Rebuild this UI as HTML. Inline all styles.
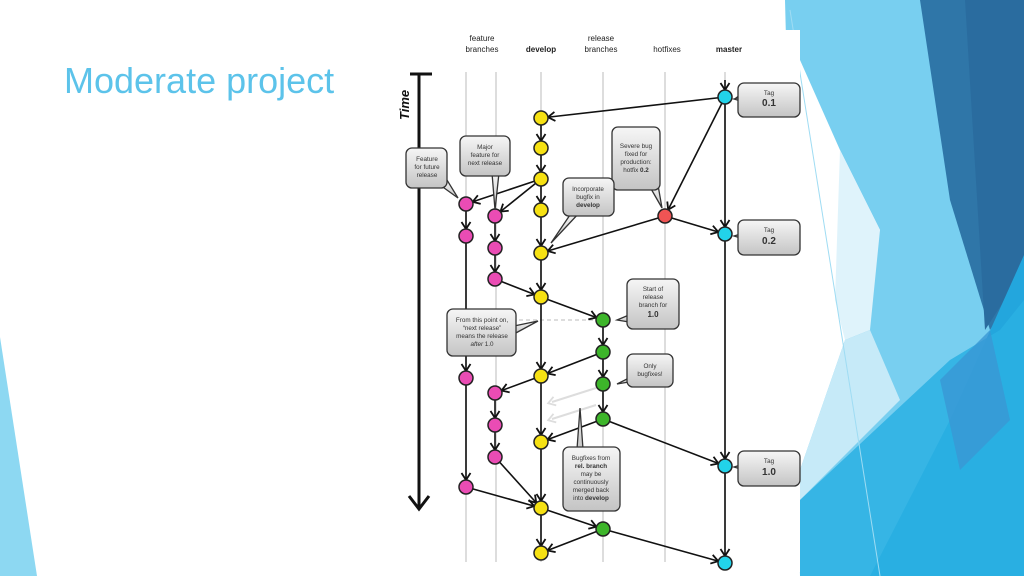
<!DOCTYPE html>
<html><head><meta charset="utf-8"><style>
html,body{margin:0;padding:0;background:#fff;width:1024px;height:576px;overflow:hidden}
svg{display:block}
text{font-family:"Liberation Sans",sans-serif}
</style></head><body>
<svg width="1024" height="576" viewBox="0 0 1024 576" xmlns="http://www.w3.org/2000/svg">
<defs>
<linearGradient id="cg" x1="0" y1="0" x2="0" y2="1"><stop offset="0" stop-color="#f6f6f6"/><stop offset="1" stop-color="#c4c4c4"/></linearGradient>
<marker id="ar" markerUnits="userSpaceOnUse" markerWidth="20" markerHeight="20" refX="14" refY="0" orient="auto" style="overflow:visible"><path d="M0,-4.5 L7,0 L0,4.5" fill="none" stroke="#111" stroke-width="1.8"/></marker>
<marker id="ag" markerUnits="userSpaceOnUse" markerWidth="20" markerHeight="20" refX="3" refY="0" orient="auto" style="overflow:visible"><path d="M0,-4.5 L7,0 L0,4.5" fill="none" stroke="#ddd" stroke-width="1.8"/></marker>
</defs>
<!-- background shapes -->
<polygon points="0,337 37,576 0,576" fill="#8dd8f2"/>
<polygon points="785,0 1024,0 1024,576 800,576" fill="#78cff0"/>
<polygon points="800,60 840,150 880,230 845,340 800,470" fill="#ffffff"/>
<polygon points="840,150 880,230 870,330 845,340 835,300" fill="#dff3fb"/>
<polygon points="800,470 845,340 870,330 900,400 800,500" fill="#c6eaf8"/>
<polygon points="920,0 1024,0 1024,280 990,330 950,200" fill="#2f76a8"/>
<polygon points="965,0 1024,0 1024,270 985,330" fill="#2a6c9f"/>
<polygon points="1024,255 1024,576 870,576 950,420" fill="#23a6dd"/>
<polygon points="800,500 950,360 1000,330 1024,300 1024,576 800,576" fill="#2ab0e3" opacity="0.85"/>
<polygon points="940,380 990,330 1010,420 960,470" fill="#3a97d4" opacity="0.8"/>
<line x1="790" y1="10" x2="880" y2="576" stroke="#9fdcf3" stroke-width="1"/>
<!-- diagram white area -->
<rect x="380" y="30" width="420" height="542" fill="#fff"/>
<!-- title -->
<text x="64" y="93" font-size="36" fill="#5cc3ea">Moderate project</text>
<!-- headers -->
<g font-size="8" fill="#222" text-anchor="middle">
<text x="482" y="41">feature</text><text x="482" y="52">branches</text>
<text x="541" y="52" font-weight="bold">develop</text>
<text x="601" y="41">release</text><text x="601" y="52">branches</text>
<text x="667" y="52">hotfixes</text>
<text x="729" y="52" font-weight="bold">master</text>
</g>
<!-- vertical guide lines -->
<g stroke="#ddd" stroke-width="2">
<line x1="466" y1="72" x2="466" y2="562"/><line x1="496" y1="72" x2="496" y2="562"/>
<line x1="541" y1="72" x2="541" y2="562"/><line x1="603" y1="72" x2="603" y2="562"/>
<line x1="665" y1="72" x2="665" y2="562"/><line x1="725" y1="72" x2="725" y2="562"/>
</g>
<!-- time axis -->
<line x1="410" y1="74" x2="432" y2="74" stroke="#111" stroke-width="3"/>
<line x1="419" y1="74" x2="419" y2="508" stroke="#111" stroke-width="3"/>
<path d="M409,496 L419,509 L429,496" fill="none" stroke="#111" stroke-width="3"/>
<text transform="translate(409,120) rotate(-90)" font-size="13" font-weight="bold" font-style="italic" fill="#111">Time</text>
<!-- dashed -->
<line x1="470" y1="320" x2="595" y2="320" stroke="#bbb" stroke-width="1" stroke-dasharray="4,3"/>
<!-- faint arrows -->
<line x1="596" y1="388" x2="552" y2="402" stroke="#ddd" stroke-width="2" marker-end="url(#ag)"/>
<line x1="596" y1="405" x2="552" y2="419" stroke="#ddd" stroke-width="2" marker-end="url(#ag)"/>
<!-- edges -->
<g stroke="#111" stroke-width="1.6" marker-end="url(#ar)">
<line x1="725" y1="80" x2="725" y2="97"/>
<line x1="725" y1="97" x2="541" y2="118"/>
<line x1="725" y1="97" x2="665" y2="216"/>
<line x1="725" y1="97" x2="725" y2="234"/>
<line x1="665" y1="216" x2="725" y2="234"/>
<line x1="665" y1="216" x2="541" y2="253"/>
<line x1="541" y1="118" x2="541" y2="148"/>
<line x1="541" y1="148" x2="541" y2="179"/>
<line x1="541" y1="179" x2="541" y2="210"/>
<line x1="541" y1="210" x2="541" y2="253"/>
<line x1="541" y1="253" x2="541" y2="297"/>
<line x1="541" y1="297" x2="541" y2="376"/>
<line x1="541" y1="376" x2="541" y2="442"/>
<line x1="541" y1="442" x2="541" y2="508"/>
<line x1="541" y1="508" x2="541" y2="553"/>
<line x1="541" y1="179" x2="466" y2="204"/>
<line x1="541" y1="179" x2="495" y2="216"/>
<line x1="466" y1="204" x2="466" y2="236"/>
<line x1="466" y1="236" x2="466" y2="378"/>
<line x1="466" y1="378" x2="466" y2="487"/>
<line x1="466" y1="487" x2="541" y2="508"/>
<line x1="495" y1="216" x2="495" y2="248"/>
<line x1="495" y1="248" x2="495" y2="279"/>
<line x1="495" y1="279" x2="541" y2="297"/>
<line x1="541" y1="297" x2="603" y2="320"/>
<line x1="603" y1="320" x2="603" y2="352"/>
<line x1="603" y1="352" x2="603" y2="384"/>
<line x1="603" y1="384" x2="603" y2="419"/>
<line x1="603" y1="352" x2="541" y2="376"/>
<line x1="541" y1="376" x2="495" y2="393"/>
<line x1="495" y1="393" x2="495" y2="425"/>
<line x1="495" y1="425" x2="495" y2="457"/>
<line x1="495" y1="457" x2="541" y2="508"/>
<line x1="603" y1="419" x2="541" y2="442"/>
<line x1="603" y1="419" x2="725" y2="466"/>
<line x1="725" y1="234" x2="725" y2="466"/>
<line x1="725" y1="466" x2="725" y2="563"/>
<line x1="541" y1="508" x2="603" y2="529"/>
<line x1="603" y1="529" x2="541" y2="553"/>
<line x1="603" y1="529" x2="725" y2="563"/>
</g>
<!-- nodes -->
<g stroke="#222" stroke-width="1.5">
<g fill="#22d3ea"><circle cx="725" cy="97" r="7"/><circle cx="725" cy="234" r="7"/><circle cx="725" cy="466" r="7"/><circle cx="725" cy="563" r="7"/></g>
<g fill="#f6e113"><circle cx="541" cy="118" r="7"/><circle cx="541" cy="148" r="7"/><circle cx="541" cy="179" r="7"/><circle cx="541" cy="210" r="7"/><circle cx="541" cy="253" r="7"/><circle cx="541" cy="297" r="7"/><circle cx="541" cy="376" r="7"/><circle cx="541" cy="442" r="7"/><circle cx="541" cy="508" r="7"/><circle cx="541" cy="553" r="7"/></g>
<g fill="#ea4cb4"><circle cx="466" cy="204" r="7"/><circle cx="466" cy="236" r="7"/><circle cx="466" cy="378" r="7"/><circle cx="466" cy="487" r="7"/><circle cx="495" cy="216" r="7"/><circle cx="495" cy="248" r="7"/><circle cx="495" cy="279" r="7"/><circle cx="495" cy="393" r="7"/><circle cx="495" cy="425" r="7"/><circle cx="495" cy="457" r="7"/></g>
<g fill="#3db52a"><circle cx="603" cy="320" r="7"/><circle cx="603" cy="352" r="7"/><circle cx="603" cy="384" r="7"/><circle cx="603" cy="419" r="7"/><circle cx="603" cy="529" r="7"/></g>
<circle cx="665" cy="216" r="7" fill="#f05454"/>
</g>
<!-- callouts -->
<g fill="url(#cg)" stroke="#333" stroke-width="1.3">
<polygon points="740,95 736,98 742,103"/>
<polygon points="744,96 734,99 744,102"/><rect x="738" y="83" width="62" height="34" rx="6"/>
<polygon points="744,233 734,236 744,239"/><rect x="738" y="220" width="62" height="35" rx="6"/>
<polygon points="744,464 734,467 744,470"/><rect x="738" y="451" width="62" height="35" rx="6"/>
<polygon points="440,185 458,198 447,180"/><rect x="406" y="148" width="41" height="40" rx="6"/>
<polygon points="492,173 495,210 499,173"/><rect x="460" y="136" width="50" height="40" rx="6"/>
<polygon points="650,187 662,208 658,185"/><rect x="612" y="127" width="48" height="63" rx="6"/>
<polygon points="572,212 551,243 580,212"/><rect x="563" y="178" width="51" height="38" rx="6"/>
<polygon points="629,315 617,320 629,322"/><rect x="627" y="279" width="52" height="50" rx="6"/>
<polygon points="514,326 538,321 514,334"/><rect x="447" y="309" width="69" height="47" rx="6"/>
<polygon points="629,378 617,384 629,382"/><rect x="627" y="354" width="46" height="33" rx="6"/>
<polygon points="577,449 580,408 583,449"/><rect x="563" y="447" width="57" height="64" rx="6"/>
</g>
<g font-size="6.3" fill="#333" text-anchor="middle">
<text x="769" y="95">Tag</text><text x="769" y="106" font-size="10" font-weight="bold">0.1</text>
<text x="769" y="232">Tag</text><text x="769" y="244" font-size="10" font-weight="bold">0.2</text>
<text x="769" y="463">Tag</text><text x="769" y="475" font-size="10" font-weight="bold">1.0</text>
<text x="427" y="161">Feature</text><text x="427" y="169">for future</text><text x="427" y="177">release</text>
<text x="485" y="149">Major</text><text x="485" y="157">feature for</text><text x="485" y="165">next release</text>
<text x="636" y="148">Severe bug</text><text x="636" y="156">fixed for</text><text x="636" y="164">production:</text><text x="636" y="172">hotfix <tspan font-weight="bold">0.2</tspan></text>
<text x="588" y="191">Incorporate</text><text x="588" y="199">bugfix in</text><text x="588" y="207" font-weight="bold">develop</text>
<text x="653" y="291">Start of</text><text x="653" y="299">release</text><text x="653" y="307">branch for</text><text x="653" y="317" font-size="8" font-weight="bold">1.0</text>
<text x="482" y="322">From this point on,</text><text x="482" y="330">“next release”</text><text x="482" y="338">means the release</text><text x="482" y="346"><tspan font-style="italic">after</tspan> 1.0</text>
<text x="650" y="368">Only</text><text x="650" y="376">bugfixes!</text>
<text x="591" y="460">Bugfixes from</text><text x="591" y="468" font-weight="bold">rel. branch</text><text x="591" y="476">may be</text><text x="591" y="484">continuously</text><text x="591" y="492">merged back</text><text x="591" y="500">into <tspan font-weight="bold">develop</tspan></text>
</g>
</svg>
</body></html>
